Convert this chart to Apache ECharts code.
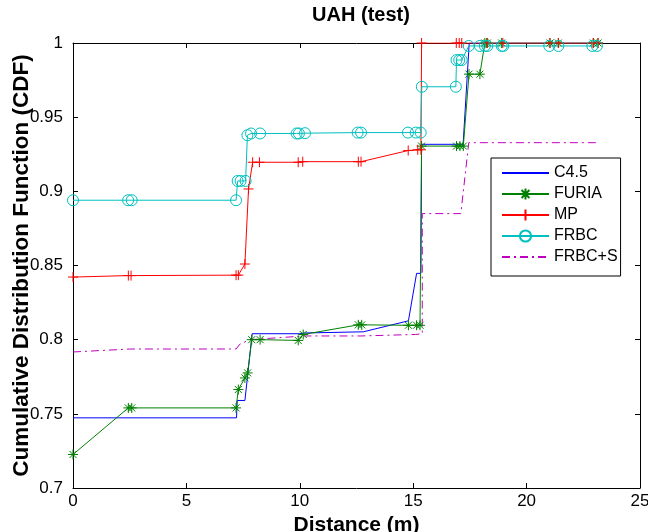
<!DOCTYPE html>
<html>
<head>
<meta charset="utf-8">
<script src="https://cdn.jsdelivr.net/npm/echarts@6/dist/echarts.min.js"></script>
<style>html,body{margin:0;padding:0;background:#fff}#c{width:648px;height:532px}</style>
</head>
<body>
<div id="c"></div>
<script>
// ---- data ----
const xTicks = [0, 5, 10, 15, 20, 25];
const yTicks = [0.7, 0.75, 0.8, 0.85, 0.9, 0.95, 1];
const seriesNames = ['C4.5', 'FURIA', 'MP', 'FRBC', 'FRBC+S'];

const c45X = [0, 7.21, 7.24, 7.58, 7.9, 10.0, 10.2, 12.8, 14.79, 15.15, 15.34, 15.37, 17.2, 17.47, 23.1];
const c45Y = [0.7473, 0.7473, 0.759, 0.759, 0.804, 0.804, 0.8045, 0.8053, 0.8127, 0.8447, 0.8447, 0.9317, 0.9317, 1.0, 1.0];

const furiaX = [0, 2.44, 2.59, 7.19, 7.29, 7.58, 7.7, 7.88, 8.25, 9.93, 10.15, 12.58, 12.73, 14.79, 15.15, 15.3, 15.37, 16.91, 17.06, 17.21, 17.46, 17.94, 18.16, 18.27, 18.9, 21.03, 21.4, 22.94, 23.15];
const furiaY = [0.7226, 0.754, 0.754, 0.754, 0.7664, 0.7742, 0.7776, 0.80, 0.80, 0.7995, 0.8035, 0.81, 0.81, 0.8097, 0.8097, 0.8097, 0.9305, 0.9305, 0.9305, 0.9305, 0.979, 0.979, 1, 1, 1, 1, 1, 1, 1];

const mpX = [0, 2.44, 2.56, 7.19, 7.29, 7.58, 7.74, 7.92, 8.22, 9.93, 10.13, 12.58, 12.7, 14.78, 15.2, 15.34, 15.37, 16.9, 17.03, 17.14, 18.24, 18.95, 21.03, 21.4, 22.94, 23.15];
const mpY = [0.8422, 0.8432, 0.8432, 0.8435, 0.8435, 0.851, 0.9016, 0.9196, 0.9196, 0.9196, 0.920, 0.920, 0.920, 0.9275, 0.928, 0.928, 1, 1, 1, 1, 1, 1, 1, 1, 1, 1];

const frbcX = [0, 2.43, 2.59, 7.19, 7.26, 7.39, 7.61, 7.69, 7.85, 8.25, 9.86, 9.96, 10.23, 12.55, 12.7, 14.77, 15.11, 15.33, 15.38, 16.88, 16.91, 17.03, 17.14, 17.45, 17.94, 18.16, 18.27, 18.9, 18.97, 21.0, 21.4, 22.9, 23.1];
const frbcY = [0.894, 0.894, 0.894, 0.894, 0.907, 0.907, 0.907, 0.9378, 0.939, 0.939, 0.939, 0.939, 0.9392, 0.9396, 0.9396, 0.9396, 0.9396, 0.9396, 0.9705, 0.9705, 0.9885, 0.9885, 0.9885, 0.998, 0.998, 0.998, 0.998, 0.998, 0.998, 0.998, 0.998, 0.998, 0.998];

const frbcsX = [0, 2.5, 7.19, 7.36, 7.8, 10.2, 12.7, 15.1, 15.4, 15.4, 17.1, 17.45, 23.1];
const frbcsY = [0.7917, 0.7937, 0.7937, 0.797, 0.80, 0.8025, 0.8025, 0.8035, 0.804, 0.885, 0.885, 0.9328, 0.9328];

// ---- build ----
const zip = (xs, ys) => xs.map((x, i) => [x, ys[i]]);
const PLUS = 'path://M0,5L10,5M5,0L5,10';
const STAR = 'path://M5,0L5,10M0,5L10,5M1.5,1.5L8.5,8.5M1.5,8.5L8.5,1.5';
const FONT = 'Liberation Sans, Arial, Helvetica, sans-serif';
const CLEAR = 'rgba(0,0,0,0)';

function mk(name, data, color, symbol, size, lineType) {
  const hasSym = !!symbol;
  return {
    name, type: 'line', data,
    xAxisIndex: 0, yAxisIndex: 0,
    symbol: hasSym ? symbol : 'circle',
    symbolSize: hasSym ? size : 1,
    showSymbol: hasSym,
    lineStyle: { color, width: 1, type: lineType || 'solid' },
    itemStyle: hasSym
      ? { color: symbol === 'circle' ? CLEAR : color, borderColor: color, borderWidth: 1 }
      : { color: CLEAR, borderColor: CLEAR, borderWidth: 0 },
    emphasis: { disabled: true },
    z: 2
  };
}

const series = [
  mk(seriesNames[0], zip(c45X, c45Y), '#0000ff', null, 0),
  mk(seriesNames[1], zip(furiaX, furiaY), '#008000', STAR, 10),
  mk(seriesNames[2], zip(mpX, mpY), '#ff0000', PLUS, 10),
  mk(seriesNames[3], zip(frbcX, frbcY), '#00bfbf', 'circle', 11),
  mk(seriesNames[4], zip(frbcsX, frbcsY), '#bf00bf', null, 0, [8, 4, 2, 4])
];

const axisCommon = {
  axisLine: { show: true, onZero: false, lineStyle: { color: '#000', width: 1 } },
  axisTick: { show: true, inside: true, length: 5, lineStyle: { color: '#000' } },
  splitLine: { show: false }
};

const chart = echarts.init(document.getElementById('c'), null, { renderer: 'canvas' });
chart.setOption({
  animation: false,
  backgroundColor: '#fff',
  title: {
    text: 'UAH (test)', left: 356, top: 0, textAlign: 'center',
    textStyle: { fontFamily: FONT, fontSize: 20, fontWeight: 'bold', color: '#000' }
  },
  grid: { left: 73, right: 8, top: 43, bottom: 44, containLabel: false, outerBoundsMode: 'none' },
  legend: {
    data: seriesNames, orient: 'vertical', left: 491, top: 158,
    itemWidth: 47, itemHeight: 14, itemGap: 5,
    padding: [7, 3, 11, 10],
    borderColor: '#000', borderWidth: 1, backgroundColor: '#fff',
    textStyle: { fontFamily: FONT, fontSize: 16, color: '#000' },
    selectedMode: false
  },
  xAxis: [
    Object.assign({
      type: 'value', min: xTicks[0], max: xTicks[xTicks.length - 1], interval: xTicks[1] - xTicks[0],
      position: 'bottom',
      name: 'Distance (m)', nameLocation: 'middle', nameGap: 21,
      nameTextStyle: { fontFamily: FONT, fontSize: 21, fontWeight: 'bold', color: '#000' },
      axisLabel: { fontFamily: FONT, fontSize: 17, color: '#000', margin: 5 }
    }, axisCommon),
    Object.assign({
      type: 'value', min: xTicks[0], max: xTicks[xTicks.length - 1], interval: xTicks[1] - xTicks[0],
      position: 'top', axisLabel: { show: false }
    }, axisCommon)
  ],
  yAxis: [
    Object.assign({
      type: 'value', min: yTicks[0], max: yTicks[yTicks.length - 1], interval: 0.05,
      position: 'left',
      name: 'Cumulative Distribution Function (CDF)', nameLocation: 'middle', nameGap: 40,
      nameMoveOverlap: false,
      nameTextStyle: { fontFamily: FONT, fontSize: 22.5, fontWeight: 'bold', color: '#000' },
      axisLabel: { fontFamily: FONT, fontSize: 17, color: '#000', margin: 10,
        formatter: v => String(+(+v).toFixed(2)) }
    }, axisCommon),
    Object.assign({
      type: 'value', min: yTicks[0], max: yTicks[yTicks.length - 1], interval: 0.05,
      position: 'right', axisLabel: { show: false }
    }, axisCommon)
  ],
  series
});
</script>
</body>
</html>
